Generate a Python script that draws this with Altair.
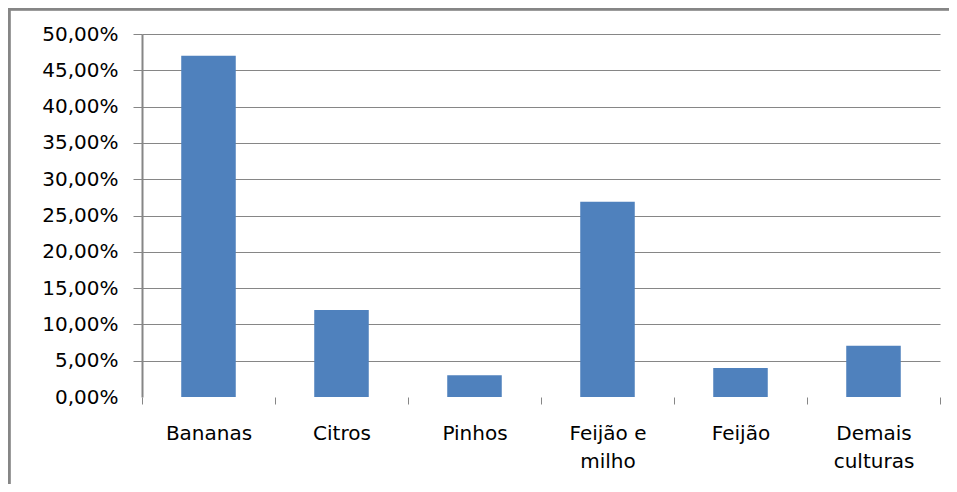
import altair as alt
import pandas as pd

categories = ["Bananas", "Citros", "Pinhos", "Feijão e milho", "Feijão", "Demais culturas"]
values = [47.0, 12.0, 3.0, 26.9, 4.0, 7.05]
y_ticks = [0, 5, 10, 15, 20, 25, 30, 35, 40, 45, 50]

df = pd.DataFrame({"cultura": categories, "pct": values})

GRAY = "#868686"
FONT = "DejaVu Sans"

label_expr_x = (
    "datum.label == 'Feijão e milho' ? ['Feijão e', 'milho'] : "
    "datum.label == 'Demais culturas' ? ['Demais', 'culturas'] : datum.label"
)

bars = alt.Chart(df).mark_bar(color="#4F81BD", width=alt.RelativeBandSize(0.41)).encode(
    x=alt.X(
        "cultura:N",
        sort=categories,
        title=None,
        scale=alt.Scale(paddingInner=0, paddingOuter=0),
        axis=alt.Axis(
            labelAngle=0,
            domain=False,
            tickBand="extent",
            tickSize=7,
            tickColor=GRAY,
            tickWidth=1,
            labelFont=FONT,
            labelFontSize=20,
            labelColor="#000000",
            labelLineHeight=28,
            labelPadding=19,
            labelExpr=label_expr_x,
        ),
    ),
    y=alt.Y(
        "pct:Q",
        title=None,
        scale=alt.Scale(domain=[0, 50], nice=False),
        axis=alt.Axis(
            values=y_ticks,
            labelExpr="replace(format(datum.value, '.2f'), '.', ',') + '%'",
            labelFont=FONT,
            labelFontSize=20,
            labelColor="#000000",
            labelPadding=15,
            tickSize=9,
            tickColor=alt.condition("datum.value == 0", alt.value("transparent"), alt.value(GRAY)),
            tickWidth=1,
            domainColor=GRAY,
            domainWidth=2,
            grid=True,
            gridColor=alt.condition("datum.value == 0", alt.value("transparent"), alt.value(GRAY)),
            gridWidth=1,
        ),
    ),
)

frame_top = alt.Chart(df).mark_rule(color=GRAY, strokeWidth=2.5).encode(
    x=alt.value(-133), x2=alt.value(820), y=alt.value(-25)
)
frame_left = alt.Chart(df).mark_rule(color=GRAY, strokeWidth=2.5).encode(
    x=alt.value(-133), y=alt.value(-26), y2=alt.value(470)
)

chart = alt.layer(bars, frame_top, frame_left).properties(
    width=798,
    height=363,
    autosize=alt.AutoSizeParams(type="none"),
    padding={"left": 134, "top": 26, "right": 9, "bottom": 87},
    background="white",
).configure_view(stroke=None)

chart.save("out.html", embed_options={"renderer": "svg", "actions": False})
